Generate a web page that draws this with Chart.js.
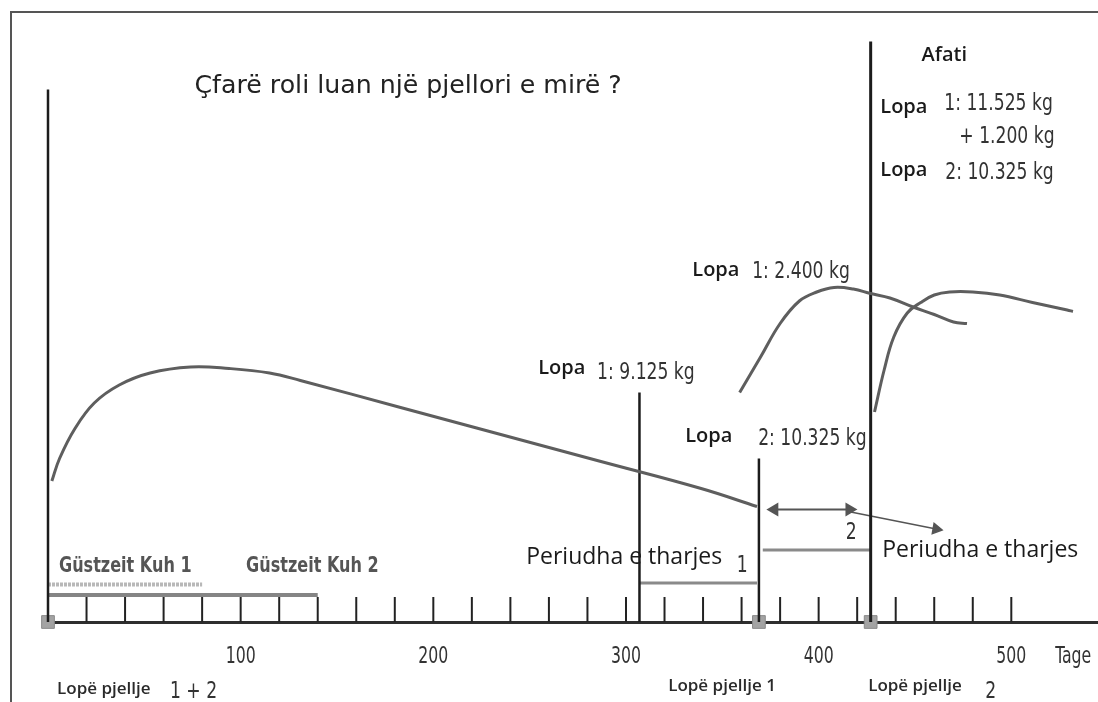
<!DOCTYPE html>
<html>
<head>
<meta charset="utf-8">
<title>Pjellori</title>
<script src="https://cdn.jsdelivr.net/npm/chart.js@4.4.0/dist/chart.umd.min.js"></script>
<style>
  body { margin: 0; background: #fff; }
  canvas { display: block; }
</style>
</head>
<body>
<canvas id="grafico" width="1098" height="702"></canvas>
<script>
// Laktacioni i pare (lopa 1 + 2): ditet dhe qumeshti (kg/dite)
const ditetLaktacioni1 = [2, 6, 14, 24, 37, 53, 74, 94, 115, 131, 183, 235, 287, 339, 368];
const qumeshtLaktacioni1 = [9.4, 10.9, 12.9, 14.6, 15.8, 16.6, 17.0, 16.9, 16.6, 16.1, 14.3, 12.5, 10.7, 8.9, 7.7];

// Laktacioni i dyte i lopes 1
const ditetLopa1 = [359, 370, 380, 390, 399, 408, 418, 427, 437, 449, 460, 470, 477];
const qumeshtLopa1 = [15.3, 17.7, 19.9, 21.4, 22.0, 22.3, 22.2, 21.9, 21.6, 21.0, 20.5, 20.0, 19.9];

// Laktacioni i dyte i lopes 2
const ditetLopa2 = [429, 434, 439, 446, 453, 460, 468, 480, 494, 511, 529, 532];
const qumeshtLopa2 = [14.0, 16.8, 19.0, 20.6, 21.3, 21.8, 22.0, 22.0, 21.8, 21.3, 20.8, 20.7];

// Vijat vertikale: boshti, tharja e lopes 1, pjellja 1, afati (pjellja 2)
const ditetVijat = [0, 307, 369, 427];
const lartesiaVijat = [35.5, 15.3, 10.9, 38.7];

// Pjelljet (katroret mbi bosht)
const ditetPjellje = [0, 369, 427];

// Periudhat: Güstzeit 1, Güstzeit 2, tharja 1, tharja 2
const periudhaFillim = [0, 0, 307, 371];
const periudhaFund = [80, 140, 368, 427];
const periudhaNiveli = [2.5, 1.8, 2.6, 4.8];

// Shigjetat
const shigjetaDyfishe = [377, 416];
const shigjetaNiveli = 7.5;
const shigjetaFund = [461, 6.2];

// Boshti x
const ditetShenjat = [20, 40, 60, 80, 100, 120, 140, 160, 180, 200, 220, 240, 260, 280, 300,
                      320, 340, 360, 380, 400, 420, 440, 460, 480, 500];
const etiketatX = [100, 200, 300, 400, 500];
const njesiaX = 'Tage';

const NARROW = '"Liberation Sans Narrow", "DejaVu Sans Condensed", sans-serif';
const SANS = '"Open Sans", "Noto Sans", sans-serif';

// sx = ngjeshja horizontale e shkronjave (si Arial Narrow ne origjinal)
const fontet = {
    titull:   { font: '25px "DejaVu Sans", sans-serif', color: '#222', sx: 1.01 },
    lopa:     { font: '600 20px ' + SANS, color: '#1a1a1a', sx: 1 },
    num:      { font: '23px ' + NARROW, color: '#333', sx: 0.83 },
    bosht:    { font: '23px ' + NARROW, color: '#333', sx: 0.76 },
    periudha: { font: '23px ' + SANS, color: '#1a1a1a', sx: 1 },
    gust:     { font: 'bold 21px ' + NARROW, color: '#555', sx: 0.85 },
    pjellje:  { font: '600 17px ' + SANS, color: '#2a2a2a', sx: 1 }
};

// Tekstet (pozicioni ne njesite e grafikut: dite, kg)
const etiketat = [
    { t: 'Çfarë roli luan një pjellori e mirë ?', x: 186.9, y: 35.67, f: 'titull', a: 'center' },
    { t: 'Afati', x: 465.2, y: 37.8, f: 'lopa', a: 'center' },
    { t: 'Lopa', x: 432.0, y: 34.33, f: 'lopa' },
    { t: '1: 11.525 kg', x: 465.2, y: 34.53, f: 'num' },
    { t: '+ 1.200 kg', x: 473.0, y: 32.33, f: 'num' },
    { t: 'Lopa', x: 432.0, y: 30.13, f: 'lopa' },
    { t: '2: 10.325 kg', x: 465.7, y: 29.93, f: 'num' },
    { t: 'Lopa', x: 334.4, y: 23.47, f: 'lopa' },
    { t: '1: 2.400 kg', x: 365.5, y: 23.33, f: 'num' },
    { t: 'Lopa', x: 254.4, y: 16.93, f: 'lopa' },
    { t: '1: 9.125 kg', x: 285.0, y: 16.6, f: 'num' },
    { t: 'Lopa', x: 330.7, y: 12.4, f: 'lopa' },
    { t: '2: 10.325 kg', x: 368.6, y: 12.2, f: 'num' },
    { t: 'Periudha e tharjes', x: 248.2, y: 4.33, f: 'periudha' },
    { t: '1', x: 360.3, y: 3.73, f: 'num', a: 'center' },
    { t: '2', x: 416.9, y: 5.93, f: 'num', a: 'center' },
    { t: 'Periudha e tharjes', x: 433.0, y: 4.8, f: 'periudha' },
    { t: 'Güstzeit Kuh 1', x: 5.7, y: 3.73, f: 'gust' },
    { t: 'Güstzeit Kuh 2', x: 102.8, y: 3.73, f: 'gust' },
    { t: 'Lopë pjellje', x: 4.7, y: -4.47, f: 'pjellje' },
    { t: '1 + 2', x: 63.3, y: -4.67, f: 'num' },
    { t: 'Lopë pjellje 1', x: 321.9, y: -4.27, f: 'pjellje' },
    { t: 'Lopë pjellje', x: 425.7, y: -4.27, f: 'pjellje' },
    { t: '2', x: 486.5, y: -4.67, f: 'num' }
];

function pika(xs, ys) {
    return xs.map((x, i) => ({ x: x, y: ys[i] }));
}

function shkruaj(ctx, tekst, px, py, stil, align) {
    ctx.save();
    ctx.font = stil.font;
    ctx.fillStyle = stil.color;
    ctx.textAlign = align || 'left';
    ctx.textBaseline = 'middle';
    ctx.translate(px, py);
    ctx.scale(stil.sx, 1);
    ctx.fillText(tekst, 0, 0);
    ctx.restore();
}

const datasets = [];

// Kurbat e laktacionit
[[ditetLaktacioni1, qumeshtLaktacioni1], [ditetLopa1, qumeshtLopa1], [ditetLopa2, qumeshtLopa2]].forEach(k => {
    datasets.push({
        data: pika(k[0], k[1]),
        borderColor: '#5e5e5e',
        borderWidth: 3,
        pointRadius: 0,
        tension: 0.4
    });
});

// Vijat vertikale
ditetVijat.forEach((d, i) => {
    datasets.push({
        data: [{ x: d, y: 0 }, { x: d, y: lartesiaVijat[i] }],
        borderColor: '#1c1c1c',
        borderWidth: i === 3 ? 3 : 2.5,
        pointRadius: 0,
        clip: false
    });
});

// Periudhat
const ngjyraPeriudha = ['#b8b8b8', '#858585', '#8a8a8a', '#8a8a8a'];
const trashesiaPeriudha = [4, 4, 3, 3];
periudhaFillim.forEach((d, i) => {
    datasets.push({
        data: [{ x: d, y: periudhaNiveli[i] }, { x: periudhaFund[i], y: periudhaNiveli[i] }],
        borderColor: ngjyraPeriudha[i],
        borderWidth: trashesiaPeriudha[i],
        borderDash: i === 0 ? [3, 1] : [],
        pointRadius: 0,
        clip: false
    });
});

// Shigjeta me dy maja
datasets.push({
    data: [{ x: shigjetaDyfishe[0], y: shigjetaNiveli }, { x: shigjetaDyfishe[1], y: shigjetaNiveli }],
    borderColor: '#555',
    borderWidth: 2,
    pointStyle: 'triangle',
    pointRadius: 6,
    pointRotation: [-90, 90],
    pointBackgroundColor: '#555',
    pointBorderColor: '#555'
});
// Shigjeta e pjerret
datasets.push({
    data: [{ x: shigjetaDyfishe[1], y: shigjetaNiveli - 0.15 }, { x: shigjetaFund[0], y: shigjetaFund[1] }],
    borderColor: '#555',
    borderWidth: 1.5,
    pointStyle: 'triangle',
    pointRadius: [0, 6],
    pointRotation: [0, 100],
    pointBackgroundColor: '#555',
    pointBorderColor: '#555'
});

// Pjelljet
datasets.push({
    type: 'scatter',
    data: ditetPjellje.map(d => ({ x: d, y: 0 })),
    pointStyle: 'rect',
    pointRadius: 9,
    pointBackgroundColor: '#a3a3a3',
    pointBorderColor: '#8a8a8a',
    pointBorderWidth: 1,
    clip: false
});

const pluginVizatimi = {
    id: 'vizatimi',
    beforeDraw(chart) {
        const c = chart.ctx;
        c.save();
        c.fillStyle = '#fff';
        c.fillRect(0, 0, chart.width, chart.height);
        // korniza e skanuar
        c.strokeStyle = '#555';
        c.lineWidth = 2;
        c.beginPath();
        c.moveTo(11, chart.height);
        c.lineTo(11, 12);
        c.lineTo(chart.width, 12);
        c.stroke();
        c.restore();
    },
    beforeDatasetsDraw(chart) {
        const { ctx, scales: { x, y } } = chart;
        const y0 = y.getPixelForValue(0);
        ctx.save();
        ctx.strokeStyle = '#222';
        ctx.lineWidth = 2;
        ditetShenjat.forEach(d => {
            const px = x.getPixelForValue(d);
            ctx.beginPath();
            ctx.moveTo(px, y0);
            ctx.lineTo(px, y0 - 25);
            ctx.stroke();
        });
        ctx.restore();
    },
    afterDraw(chart) {
        const { ctx, scales: { x, y } } = chart;
        // etiketat e boshtit x
        const yEtiketa = y.getPixelForValue(0) + 35;
        etiketatX.forEach(v => shkruaj(ctx, String(v), x.getPixelForValue(v), yEtiketa, fontet.bosht, 'center'));
        shkruaj(ctx, njesiaX, x.getPixelForValue(522.8), yEtiketa, fontet.bosht, 'left');
        etiketat.forEach(e => {
            shkruaj(ctx, e.t, x.getPixelForValue(e.x), y.getPixelForValue(e.y), fontet[e.f], e.a);
        });
    }
};

new Chart(document.getElementById('grafico'), {
    type: 'line',
    data: { datasets: datasets },
    options: {
        responsive: false,
        animation: false,
        layout: { autoPadding: false, padding: { left: 48, right: 0, top: 22, bottom: 0 } },
        plugins: {
            legend: { display: false },
            tooltip: { enabled: false }
        },
        scales: {
            x: {
                type: 'linear',
                min: 0,
                max: 545,
                grid: { display: false },
                border: { display: true, color: '#2e2e2e', width: 3 },
                afterBuildTicks: axis => { axis.ticks = etiketatX.map(v => ({ value: v })); },
                afterFit: axis => { axis.height = 80; },
                ticks: { display: false }
            },
            y: {
                display: false,
                min: 0,
                max: 40
            }
        }
    },
    plugins: [pluginVizatimi]
});
</script>
</body>
</html>
